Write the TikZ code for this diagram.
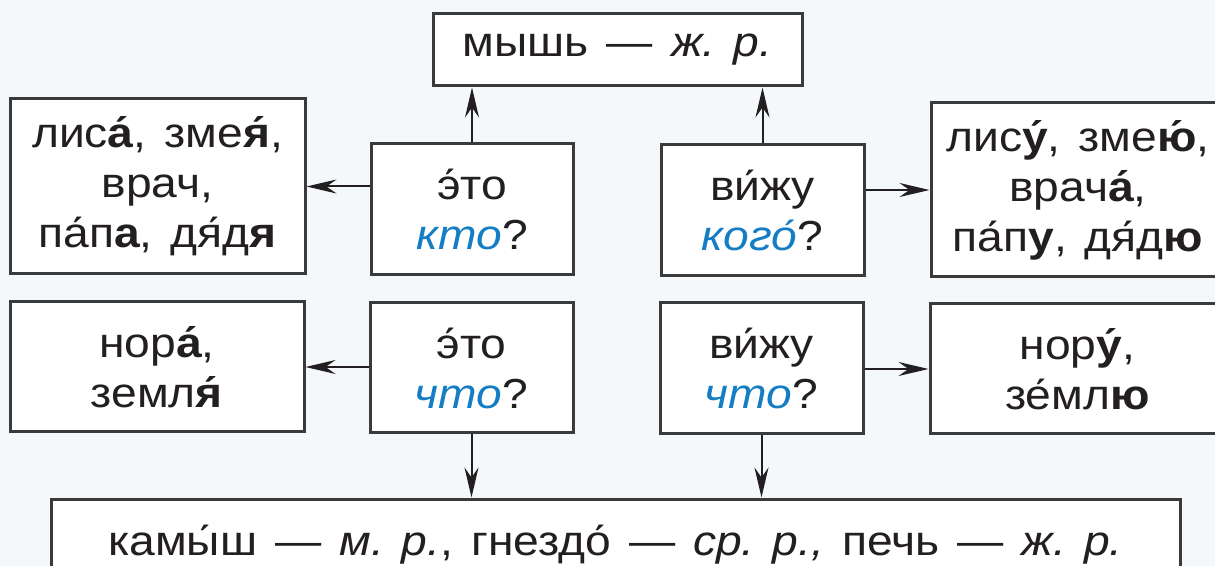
\documentclass[tikz,border=0pt]{standalone}
\usepackage{fontspec}
\setmainfont{Liberation Sans}[FakeStretch=1.1, WordSpace=1.4]
\usetikzlibrary{arrows.meta}
\definecolor{ink}{RGB}{35,31,32}
\definecolor{frame}{RGB}{58,58,58}
\definecolor{ask}{RGB}{20,125,195}
\definecolor{paper}{RGB}{244,248,250}

\begin{document}
\begin{tikzpicture}[x=0.5pt,y=-0.5pt]
        \tikzstyle{every node} = [rectangle, draw=frame, line width=1.5pt, fill=white, text=ink, align=center, inner sep=0pt, font=\fontsize{21}{25}\selectfont]
        \tikzstyle{arr} = [-{Stealth[length=15pt,width=7pt,inset=5pt]}, line width=1pt, draw=ink]
        \fill[paper] (0,0) rectangle (1215,566);
        \useasboundingbox (0,0) rectangle (1215,566);

        \node[minimum width=184.5pt, minimum height=36pt] (0) at (617.5,50) {мышь — \textit{ж.\ р.}};
        \node[minimum width=147.5pt, minimum height=87.5pt] (1) at (157.5,186.5) {лис\textbf{а́}, зме\textbf{я́},\\ врач,\\ па́п\textbf{а}, дя́д\textbf{я}};
        \node[minimum width=101pt, minimum height=65.5pt] (2) at (472,209.5) {э́то\\ \textcolor{ask}{\textit{кто}}?};
        \node[minimum width=101.5pt, minimum height=65.5pt] (3) at (762.5,210.5) {ви́жу\\ \textcolor{ask}{\textit{кого́}}?};
        \node[minimum width=147pt, minimum height=87pt] (4) at (1078,190) {лис\textbf{у́}, зме\textbf{ю́},\\ врач\textbf{а́},\\ па́п\textbf{у}, дя́д\textbf{ю}};
        \node[minimum width=147pt, minimum height=65pt] (5) at (157,367) {нор\textbf{а́},\\ земл\textbf{я́}};
        \node[minimum width=101.5pt, minimum height=65pt] (6) at (471.5,368) {э́то\\ \textcolor{ask}{\textit{что}}?};
        \node[minimum width=101.5pt, minimum height=65.5pt] (7) at (761.5,368.5) {ви́жу\\ \textcolor{ask}{\textit{что}}?};
        \node[minimum width=147.5pt, minimum height=65pt] (8) at (1077.5,369) {нор\textbf{у́},\\ зе́мл\textbf{ю}};
        \node[minimum width=564.5pt, minimum height=46pt] (9) at (615.5,545) {камы́ш — \textit{м.\ р.}, гнездо́ — \textit{ср.\ р.,} печь — \textit{ж.\ р.}};

        \foreach \from/\to in {2.north/2.north |- 0.south, 3.north/3.north |- 0.south,
                2.west |- 1.east/1.east, 3.east |- 4.west/4.west,
                6.west |- 5.east/5.east, 7.east |- 8.west/8.west,
                6.south/6.south |- 9.north, 7.south/7.south |- 9.north}
            \draw[arr] (\from) -- (\to);
      \end{tikzpicture}
\end{document}
